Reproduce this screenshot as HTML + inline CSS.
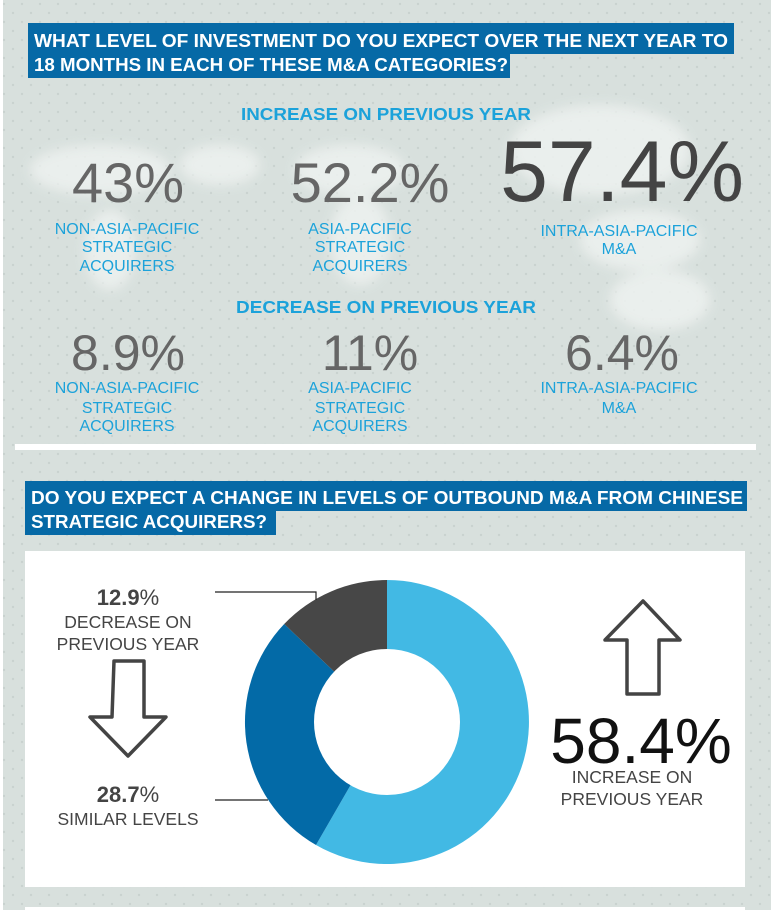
<!DOCTYPE html>
<html><head><meta charset="utf-8"><style>
html,body{margin:0;padding:0;background:#d8e0dd;}
svg{display:block;font-family:"Liberation Sans",sans-serif;}
</style></head><body>
<svg width="771" height="910" viewBox="0 0 771 910" xmlns="http://www.w3.org/2000/svg">
<defs>
<pattern id="dots" width="18" height="18" patternUnits="userSpaceOnUse">
<circle cx="4" cy="4" r="1.2" fill="#c9d2cf"/><circle cx="13" cy="13" r="1.2" fill="#c9d2cf"/>
</pattern>
<filter id="blur"><feGaussianBlur stdDeviation="6"/></filter>
</defs>
<rect width="771" height="910" fill="#d8e0dd"/>
<rect width="771" height="910" fill="url(#dots)"/>
<rect x="0" y="0" width="3" height="910" fill="#fff"/>
<g fill="#eef2f0" opacity="0.85" filter="url(#blur)">
<ellipse cx="100" cy="170" rx="70" ry="25"/>
<ellipse cx="110" cy="250" rx="25" ry="40"/>
<ellipse cx="220" cy="165" rx="40" ry="20"/>
<ellipse cx="350" cy="170" rx="55" ry="25"/>
<ellipse cx="360" cy="240" rx="30" ry="45"/>
<ellipse cx="600" cy="150" rx="90" ry="45"/>
<ellipse cx="640" cy="240" rx="60" ry="30"/>
<ellipse cx="660" cy="300" rx="50" ry="30"/>
</g>
<rect x="28" y="23" width="706" height="31" fill="#0669a6"/>
<rect x="28" y="53" width="482" height="25" fill="#0669a6"/>
<text x="34" y="47" font-size="18.5" font-weight="bold" fill="#fff" textLength="694" lengthAdjust="spacingAndGlyphs">WHAT LEVEL OF INVESTMENT DO YOU EXPECT OVER THE NEXT YEAR TO</text>
<text x="34" y="71" font-size="18.5" font-weight="bold" fill="#fff" textLength="474" lengthAdjust="spacingAndGlyphs">18 MONTHS IN EACH OF THESE M&amp;A CATEGORIES?</text>
<g fill="#1ca2da" text-anchor="middle">
<text x="386" y="120" font-size="17.5" font-weight="bold" textLength="290" lengthAdjust="spacingAndGlyphs">INCREASE ON PREVIOUS YEAR</text>
<text x="386" y="313" font-size="17.5" font-weight="bold" textLength="300" lengthAdjust="spacingAndGlyphs">DECREASE ON PREVIOUS YEAR</text>
</g>
<g text-anchor="middle">
<text x="128" y="202" font-size="56" fill="#666">43%</text>
<text x="370" y="202" font-size="56" fill="#666">52.2%</text>
<text x="622" y="201" font-size="86" fill="#444">57.4%</text>
<text x="128" y="370" font-size="50" fill="#666">8.9%</text>
<text x="370" y="370" font-size="50" fill="#666">11%</text>
<text x="622" y="370" font-size="50" fill="#666">6.4%</text>
</g>
<g fill="#1ca2da" font-size="16" text-anchor="middle">
<text x="127" y="234">NON-ASIA-PACIFIC</text><text x="127" y="252">STRATEGIC</text><text x="127" y="271">ACQUIRERS</text>
<text x="360" y="234">ASIA-PACIFIC</text><text x="360" y="252">STRATEGIC</text><text x="360" y="271">ACQUIRERS</text>
<text x="619" y="236">INTRA-ASIA-PACIFIC</text><text x="619" y="254">M&amp;A</text>
<text x="127" y="393">NON-ASIA-PACIFIC</text><text x="127" y="413">STRATEGIC</text><text x="127" y="431">ACQUIRERS</text>
<text x="360" y="393">ASIA-PACIFIC</text><text x="360" y="413">STRATEGIC</text><text x="360" y="431">ACQUIRERS</text>
<text x="619" y="393">INTRA-ASIA-PACIFIC</text><text x="619" y="413">M&amp;A</text>
</g>
<rect x="15" y="444" width="741" height="6" fill="#fff"/>
<rect x="25" y="481" width="722" height="30" fill="#0669a6"/>
<rect x="25" y="510" width="251" height="25" fill="#0669a6"/>
<text x="31" y="504" font-size="18.5" font-weight="bold" fill="#fff" textLength="712" lengthAdjust="spacingAndGlyphs">DO YOU EXPECT A CHANGE IN LEVELS OF OUTBOUND M&amp;A FROM CHINESE</text>
<text x="31" y="528" font-size="18.5" font-weight="bold" fill="#fff" textLength="236" lengthAdjust="spacingAndGlyphs">STRATEGIC ACQUIRERS?</text>
<rect x="25" y="551" width="720" height="336" fill="#fff"/>
<rect x="25" y="907" width="720" height="3" fill="#fff"/>
<g transform="translate(387,722)">
<path d="M0,-142 A142,142 0 1 1 -71,123 L0,0 Z" fill="#42b9e4"/>
<path d="M-71,123 A142,142 0 0 1 -102.8,-98 L0,0 Z" fill="#036aa7"/>
<path d="M-102.8,-98 A142,142 0 0 1 0,-142 L0,0 Z" fill="#474747"/>
<circle r="73" fill="#fff"/>
</g>
<polyline points="215,592 316,592 316,600" fill="none" stroke="#222" stroke-width="1.2"/>
<line x1="215" y1="800" x2="268" y2="800" stroke="#222" stroke-width="1.2"/>
<g fill="#444" text-anchor="middle">
<text x="128" y="605" font-size="22" font-weight="bold">12.9<tspan font-weight="normal">%</tspan></text>
<text x="128" y="628" font-size="17.5">DECREASE ON</text>
<text x="128" y="650" font-size="17.5">PREVIOUS YEAR</text>
<text x="128" y="802" font-size="22" font-weight="bold">28.7<tspan font-weight="normal">%</tspan></text>
<text x="128" y="825" font-size="17.5">SIMILAR LEVELS</text>
<text x="632" y="783" font-size="17.5">INCREASE ON</text>
<text x="632" y="805" font-size="17.5">PREVIOUS YEAR</text>
</g>
<text x="641" y="763" font-size="64" fill="#111" text-anchor="middle">58.4%</text>
<path d="M114,661 L144,661 L144,717 L166,717 L128,756 L90,717 L112,717 Z" fill="none" stroke="#444" stroke-width="3.5" stroke-linejoin="round"/>
<path d="M643,601 L680,640 L659,640 L659,694 L627,694 L627,640 L605,640 Z" fill="none" stroke="#444" stroke-width="3.5" stroke-linejoin="round"/>
</svg>
</body></html>
